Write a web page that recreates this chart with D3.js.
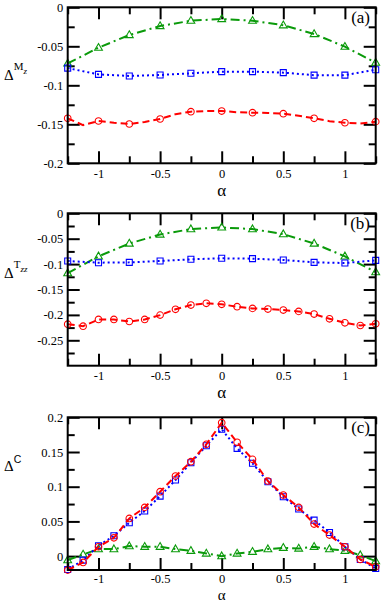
<!DOCTYPE html>
<html><head><meta charset="utf-8">
<script src="https://cdn.jsdelivr.net/npm/d3@7"></script>
<style>body{margin:0;background:#fff}svg{display:block}text{font-family:'Liberation Serif','Times New Roman',serif}</style>
</head><body>
<script>
// ---------- data ----------
const alphaCoarse = [-1.25,-1,-0.75,-0.5,-0.25,0,0.25,0.5,0.75,1,1.25];
const alphaFine = [-1.25,-1.125,-1,-0.875,-0.75,-0.625,-0.5,-0.375,-0.25,-0.125,0,0.125,0.25,0.375,0.5,0.625,0.75,0.875,1,1.125,1.25];

// panel (a)  Delta^{Mz}
const aGreen = [-0.072,-0.0518,-0.0355,-0.024,-0.0172,-0.015,-0.0172,-0.023,-0.0342,-0.0505,-0.071];
const aBlue  = [-0.078,-0.086,-0.088,-0.0868,-0.0846,-0.0825,-0.0825,-0.0838,-0.087,-0.087,-0.080];
const aRed   = [-0.1423,-0.151,-0.1458,-0.148,-0.1496,-0.147,-0.1432,-0.137,-0.1338,-0.133,-0.133,-0.1345,-0.1351,-0.1355,-0.1364,-0.139,-0.1423,-0.146,-0.148,-0.149,-0.1466];

// panel (b)  Delta^{Tzz}
const bGreen = [-0.1177,-0.0847,-0.0595,-0.0417,-0.0311,-0.0278,-0.0311,-0.041,-0.0595,-0.0847,-0.1157];
const bBlue  = [-0.0939,-0.0972,-0.0966,-0.0939,-0.0906,-0.0886,-0.0893,-0.0919,-0.0966,-0.0979,-0.0926];
const bRed   = [-0.2183,-0.2222,-0.209,-0.209,-0.213,-0.209,-0.2004,-0.189,-0.1806,-0.1772,-0.1792,-0.1839,-0.1872,-0.1885,-0.1905,-0.1931,-0.1984,-0.2077,-0.2156,-0.2209,-0.2176];

// panel (c)  Delta^{C}
const cRed   = [-0.0202,-0.0091,0.0135,0.0264,0.0543,0.0702,0.0928,0.1154,0.136,0.161,0.1923,0.164,0.1394,0.1082,0.088,0.0702,0.0462,0.0303,0.0135,-0.0048,-0.0154];
const cBlue  = [-0.0192,-0.0058,0.0149,0.0293,0.0481,0.0649,0.0865,0.1096,0.1346,0.1591,0.1827,0.1553,0.1337,0.1072,0.0856,0.0678,0.0519,0.0341,0.0135,-0.0048,-0.0178];
const cGreen = [-0.0058,0.0024,0.0101,0.0101,0.0144,0.0135,0.0135,0.0101,0.0077,0.0038,0,0.0038,0.0063,0.0101,0.012,0.011,0.0135,0.0101,0.0077,0.0014,-0.0072];

// tick labels
const xTickValues = [-1,-0.5,0,0.5,1];
const xTickLabels = ["-1","-0.5","0","0.5","1"];
const xMinorValues = [-1.25,-0.75,-0.25,0.25,0.75,1.25];
const aYTickValues = [-0.2,-0.15,-0.1,-0.05,0];
const aYTickLabels = ["-0.2","-0.15","-0.1","-0.05","0"];
const bYTickValues = [-0.25,-0.2,-0.15,-0.1,-0.05,0];
const bYTickLabels = ["-0.25","-0.2","-0.15","-0.1","-0.05","0"];
const cYTickValues = [0,0.05,0.1,0.15,0.2];
const cYTickLabels = ["0","0.05","0.1","0.15","0.2"];
const aYMinor = [-0.175,-0.125,-0.075,-0.025];
const bYMinor = [-0.275,-0.225,-0.175,-0.125,-0.075,-0.025];
const cYMinor = [0.025,0.075,0.125,0.175];

// ---------- drawing ----------
const W = 382, H = 603;
const RED = "#ff0000", BLUE = "#0000ff", GREEN = "#0a9a0a";
const FONT = "'Liberation Serif','Times New Roman',serif";

const svg = d3.select("body").append("svg").attr("width", W).attr("height", H)
  .attr("font-family", FONT);

const x = d3.scaleLinear().domain([-1.25, 1.25]).range([67.7, 375.7]);

const panels = [
  { top: 7.3, bottom: 163.3, dom: [-0.2, 0], yt: aYTickValues, yl: aYTickLabels, ym: aYMinor,
    tag: "(a)", sup: "M", sub: "z", xPad: 5.6, alphaY: 196, alphaSize: 17, labY: 80,
    series: [
      { xs: alphaCoarse, ys: aGreen, color: GREEN, dash: "9,4,2,4", sym: "tri" },
      { xs: alphaCoarse, ys: aBlue, color: BLUE, dash: "2,3", sym: "sq" },
      { xs: alphaFine, ys: aRed, color: RED, dash: "7,4", sym: "circ", coarseMarks: true }
    ] },
  { top: 213.3, bottom: 365.7, dom: [-0.3, 0], yt: bYTickValues, yl: bYTickLabels, ym: bYMinor,
    tag: "(b)", sup: "T", sub: "zz", xPad: 5.6, alphaY: 398, alphaSize: 17, labY: 278,
    series: [
      { xs: alphaCoarse, ys: bGreen, color: GREEN, dash: "9,4,2,4", sym: "tri" },
      { xs: alphaCoarse, ys: bBlue, color: BLUE, dash: "2,3", sym: "sq" },
      { xs: alphaFine, ys: bRed, color: RED, dash: "7,4", sym: "circ" }
    ] },
  { top: 417.3, bottom: 570, dom: [-0.02, 0.2], yt: cYTickValues, yl: cYTickLabels, ym: cYMinor,
    tag: "(c)", sup: "C", sub: "", xPad: 4, alphaY: 600, alphaSize: 15, labY: 471,
    series: [
      { xs: alphaFine, ys: cGreen, color: GREEN, dash: "9,4,2,4", sym: "tri" },
      { xs: alphaFine, ys: cBlue, color: BLUE, dash: "2,3", sym: "sq" },
      { xs: alphaFine, ys: cRed, color: RED, dash: "7,4", sym: "circ" }
    ] }
];

function symbolPath(kind) {
  if (kind === "tri") return "M0,-4.2L3.9,2.6L-3.9,2.6Z";
  if (kind === "sq") return "M-3,-3H3V3H-3Z";
  return d3.symbol(d3.symbolCircle, Math.PI * 3.3 * 3.3)();
}

panels.forEach(p => {
  const y = d3.scaleLinear().domain(p.dom).range([p.bottom, p.top]);
  const g = svg.append("g");
  const L = x.range()[0], R = x.range()[1];

  g.append("rect").attr("x", L).attr("y", p.top).attr("width", R - L).attr("height", p.bottom - p.top)
    .attr("fill", "#fff");

  const axes = [
    [d3.axisBottom(x).tickValues(xTickValues).tickSize(-12).tickPadding(p.xPad).tickFormat((d, i) => xTickLabels[i]), `translate(0,${p.bottom})`],
    [d3.axisBottom(x).tickValues(xMinorValues).tickSize(-7).tickFormat(""), `translate(0,${p.bottom})`],
    [d3.axisTop(x).tickValues(xTickValues).tickSize(-12).tickFormat(""), `translate(0,${p.top})`],
    [d3.axisTop(x).tickValues(xMinorValues).tickSize(-7).tickFormat(""), `translate(0,${p.top})`],
    [d3.axisLeft(y).tickValues(p.yt).tickSize(-12).tickPadding(4.5).tickFormat((d, i) => p.yl[i]), `translate(${L},0)`],
    [d3.axisLeft(y).tickValues(p.ym).tickSize(-7).tickFormat(""), `translate(${L},0)`],
    [d3.axisRight(y).tickValues(p.yt).tickSize(-12).tickFormat(""), `translate(${R},0)`],
    [d3.axisRight(y).tickValues(p.ym).tickSize(-7).tickFormat(""), `translate(${R},0)`]
  ];
  axes.forEach(([ax, tr]) => {
    const a = g.append("g").attr("transform", tr).call(ax).attr("font-family", FONT).attr("font-size", 12.5);
    a.select(".domain").remove();
    a.selectAll("line").attr("stroke", "#000").attr("stroke-width", 2);
    a.selectAll("text").attr("fill", "#000");
  });

  p.series.forEach(s => {
    const pts = s.xs.map((xv, i) => [xv, s.ys[i]]);
    g.append("path").datum(pts)
      .attr("d", d3.line().x(d => x(d[0])).y(d => y(d[1])))
      .attr("fill", "none").attr("stroke", s.color).attr("stroke-width", 2)
      .attr("stroke-dasharray", s.dash);
    const marks = s.coarseMarks ? pts.filter(d => Math.abs(d[0] * 4 - Math.round(d[0] * 4)) < 1e-9) : pts;
    g.selectAll(null).data(marks).enter().append("path")
      .attr("transform", d => `translate(${x(d[0])},${y(d[1])})`)
      .attr("d", symbolPath(s.sym))
      .attr("fill", "none").attr("stroke", s.color).attr("stroke-width", 1.1);
  });

  g.append("rect").attr("x", L).attr("y", p.top).attr("width", R - L).attr("height", p.bottom - p.top)
    .attr("fill", "none").attr("stroke", "#000").attr("stroke-width", 2);

  g.append("text").attr("x", 370).attr("y", p.top + 16).attr("text-anchor", "end")
    .attr("font-size", 17).text(p.tag);

  g.append("text").attr("x", x(0)).attr("y", p.alphaY).attr("text-anchor", "middle")
    .attr("font-size", p.alphaSize).text("α");

  const t = g.append("text").attr("x", 4).attr("y", p.labY);
  t.append("tspan").attr("font-size", 15).text("Δ");
  if (p.sup === "C") {
    t.append("tspan").attr("dy", -8).attr("font-size", 10.5)
      .style("font-family", "'Liberation Sans',Arial,sans-serif").text("C");
  } else {
    t.append("tspan").attr("dy", -10).attr("font-size", 11).text(p.sup);
    t.append("tspan").attr("dy", 4).attr("font-size", 9).attr("font-style", "italic").text(p.sub);
  }
});
</script>
</body></html>
